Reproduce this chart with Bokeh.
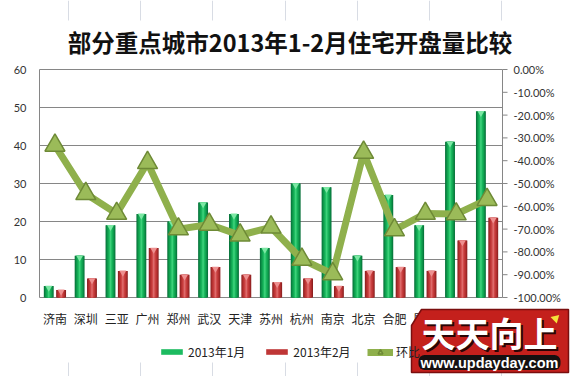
from bokeh.plotting import figure
from bokeh.models import ColumnDataSource, Range1d, Legend, LegendItem
from bokeh.core.properties import value
from bokeh.transform import dodge
from bokeh.embed import file_html
from bokeh.resources import INLINE

# ---------------- data ----------------
cities = ["济南", "深圳", "三亚", "广州", "郑州", "武汉", "天津", "苏州",
          "杭州", "南京", "北京", "合肥", "厦门", "重庆", "上海"]
jan_2013 = [3, 11, 19, 22, 20, 25, 22, 13, 30, 29, 11, 27, 19, 41, 49]
feb_2013 = [2, 5, 7, 13, 6, 8, 6, 4, 5, 3, 7, 8, 7, 15, 21]
mom_change = [-33.3, -54.5, -63.2, -40.9, -70.0, -68.0, -72.7, -69.2,
              -83.3, -89.7, -36.4, -70.4, -63.2, -63.4, -57.1]
left_ticks = [0, 10, 20, 30, 40, 50, 60]
right_ticks = [0, -10, -20, -30, -40, -50, -60, -70, -80, -90, -100]
series_names = ["2013年1月", "2013年2月", "环比"]
title_text = "部分重点城市2013年1-2月住宅开盘量比较"

# ---------------- layout constants (pixels) ----------------
W, H = 574, 376
PL, PR, PT, PB = 39, 502, 69, 297          # plot-area edges
n = len(cities)
cw = (PR - PL) / n                          # px per category
yk = (PB - PT) / (left_ticks[-1] - left_ticks[0])          # px per unit, left axis
pk = (PB - PT) / (right_ticks[0] - right_ticks[-1])        # px per %, right axis

xpos = [i + 0.5 for i in range(n)]
src = ColumnDataSource(dict(x=xpos, city=cities, jan=jan_2013, feb=feb_2013, mom=mom_change))

CJK = "Noto Sans CJK SC"
NUM = "Lato"
GRID = "#868686"

p = figure(width=W, height=H, output_backend="svg", toolbar_location=None,
           x_range=Range1d(-PL / cw, (W - PL) / cw),
           y_range=Range1d(-(H - PB) / yk, left_ticks[-1] + PT / yk),
           x_axis_type=None, y_axis_type=None, min_border=0,
           background_fill_color="white", border_fill_color="white")
p.outline_line_color = None
p.extra_y_ranges = {"pct": Range1d(right_ticks[-1] - (H - PB) / pk, PT / pk),
                    "sy": Range1d(H, 0)}
p.extra_x_ranges = {"sx": Range1d(0, W)}

# ---------------- axes & grid ----------------
p.segment(x0=0, y0=left_ticks, x1=n, y1=left_ticks, line_color=GRID, line_width=1)
p.segment(x0=[0, n], y0=[0, 0], x1=[0, n], y1=[left_ticks[-1]] * 2, line_color=GRID,
          line_width=1)
p.ray(x=n, y=right_ticks, length=5, length_units="screen", angle=0, y_range_name="pct",
      line_color=GRID, line_width=1)
p.text(x=0, y=left_ticks, text=[str(t) for t in left_ticks], x_offset=-13,
       text_align="right", text_baseline="middle", text_font=value(NUM),
       text_font_size="11px", text_color="#333333")
p.text(x=n, y=right_ticks, text=["%.2f%%" % t for t in right_ticks], x_offset=11,
       y_range_name="pct", text_align="left", text_baseline="middle", text_font=value(NUM),
       text_font_size="11px", text_color="#333333")
p.text(x="x", y=0, text="city", source=src, y_offset=21, text_align="center",
       text_baseline="middle", text_font=value(CJK), text_font_size="12px",
       text_color="#222222")

# ---------------- title ----------------
p.text(x=[289.5], y=[41], text=[title_text], x_range_name="sx", y_range_name="sy",
       text_align="center", text_baseline="middle", text_font=value(CJK),
       text_font_size="23.5px", text_font_style="bold", text_color="#111111")

# ---------------- bars with cylinder-like shading ----------------
green_layers = [(0.32, "#07713A"), (0.27, "#0B8C45"), (0.20, "#12A552"),
                (0.12, "#1CBB60"), (0.05, "#3DD07A")]
red_layers = [(0.32, "#8A1F1F"), (0.27, "#A82B2B"), (0.20, "#BF3636"),
              (0.12, "#CF4848"), (0.05, "#DE6A6A")]
g_rs, r_rs = [], []
for w, c in green_layers:
    g_rs.append(p.vbar(x=dodge("x", -0.2), top="jan", bottom=0, width=w,
                       source=src, fill_color=c, line_color=None))
for w, c in red_layers:
    r_rs.append(p.vbar(x=dodge("x", 0.2), top="feb", bottom=0, width=w,
                       source=src, fill_color=c, line_color=None))
p.scatter(x=dodge("x", -0.2), y=dodge("jan", -0.45), source=src,
          marker="inverted_triangle", size=7, fill_color="#7CE8A4", line_color=None)
p.scatter(x=dodge("x", 0.2), y=dodge("feb", -0.45), source=src,
          marker="inverted_triangle", size=7, fill_color="#EE9090", line_color=None)

# ---------------- month-on-month line ----------------
line_r = p.line(x="x", y="mom", source=src, y_range_name="pct", line_width=7,
                line_color="#8FB04C", line_join="round")
mark_r = p.scatter(x="x", y="mom", source=src, y_range_name="pct", marker="triangle",
                   size=20, fill_color="#9BBB59", line_color="#6E8A36", line_width=1.5)

# ---------------- legends ----------------
leg_style = dict(orientation="horizontal", border_line_color=None, background_fill_alpha=0,
                 label_text_font=CJK, label_text_font_size="12px",
                 label_text_color="#222222", label_height=12, label_standoff=3,
                 padding=0, margin=0)
leg1 = Legend(items=[LegendItem(label=series_names[0], renderers=[g_rs[3]]),
                     LegendItem(label=series_names[1], renderers=[r_rs[2]])],
              location=(158, 16), glyph_width=27, glyph_height=7, spacing=18, **leg_style)
leg2 = Legend(items=[LegendItem(label=series_names[2], renderers=[line_r, mark_r])],
              location=(367, 16), glyph_width=26, glyph_height=12, **leg_style)
p.add_layout(leg1)
p.add_layout(leg2)

# ---------------- faint worksheet cell lines around the chart ----------------
cell_x = [68, 140, 212, 285, 357, 429, 501]
p.segment(x0=cell_x, y0=0, x1=cell_x, y1=20, x_range_name="sx", y_range_name="sy",
          line_color="#D8DCE4", line_width=1)
p.segment(x0=cell_x, y0=362, x1=cell_x, y1=376, x_range_name="sx", y_range_name="sy",
          line_color="#D8DCE4", line_width=1)

# ---------------- watermark stamp of the image source ----------------
p.patch(x=[421, 568, 568, 411, 411], y=[309, 309, 372, 372, 325], x_range_name="sx",
        y_range_name="sy", fill_color="#C4201C", line_color="#7A0E0E", line_width=1.5)
p.text(x=[491], y=[334], text=["天天向上"], x_range_name="sx", y_range_name="sy",
       text_align="center", text_baseline="middle", text_font=value(CJK),
       text_font_style="bold", text_font_size="34px", text_color="#2A0505")
p.text(x=[489], y=[332], text=["天天向上"], x_range_name="sx", y_range_name="sy",
       text_align="center", text_baseline="middle", text_font=value(CJK),
       text_font_style="bold", text_font_size="34px", text_color="white")
p.rect(x=[489], y=[362], width=142, height=15, x_range_name="sx", y_range_name="sy",
       fill_color="#161010", line_color=None, border_radius=6)
p.text(x=[489], y=[362], text=["www.updayday.com"], x_range_name="sx", y_range_name="sy",
       text_align="center", text_baseline="middle", text_font=value("Liberation Sans"),
       text_font_style="bold", text_font_size="14.5px", text_color="white")
p.scatter(x=[555], y=[318], x_range_name="sx", y_range_name="sy", marker="triangle",
          angle=-0.8, size=9, fill_color="#F5E33A", line_color=None)

open("out.html", "w").write(file_html(p, INLINE))
